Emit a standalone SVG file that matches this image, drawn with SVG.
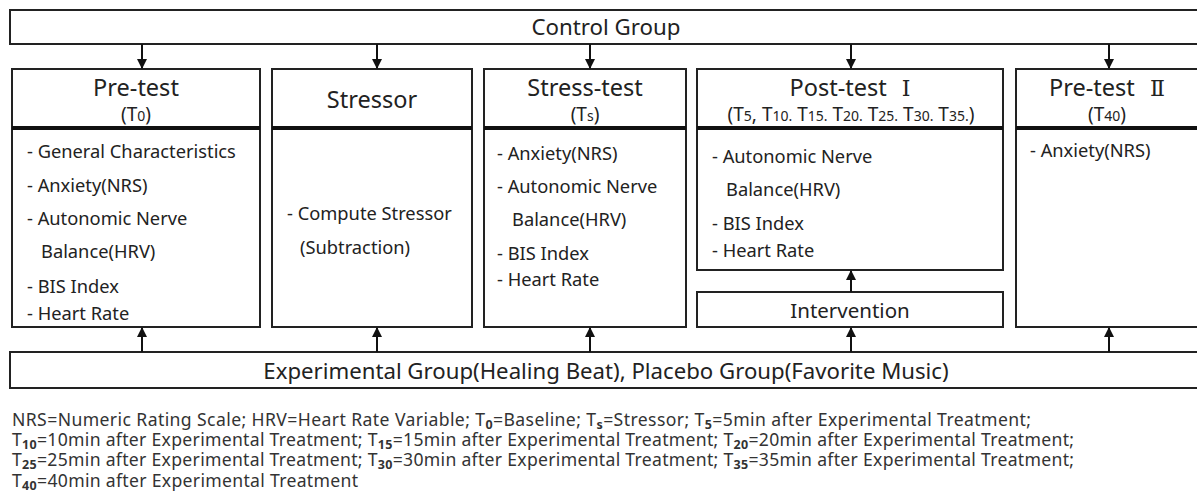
<svg xmlns="http://www.w3.org/2000/svg" width="1197" height="495" viewBox="0 0 1197 495">
<defs>
<marker id="ah" viewBox="0 0 10 10" refX="9" refY="5" markerWidth="5" markerHeight="5" orient="auto" markerUnits="strokeWidth">
<path d="M0,0 L10,5 L0,10 Z" fill="#111"/>
</marker>
<style>
.box{fill:#fff;stroke:#222;stroke-width:2}
.sep{stroke:#111;stroke-width:4}
.t{font-family:"Noto Sans","Noto Sans CJK KR","Liberation Sans",sans-serif;fill:#222}
.h{font-size:23.5px;text-anchor:middle}
.s{font-size:19px;text-anchor:middle}
.b{font-size:18.3px}
.sm{font-size:14px}
.rn{font-family:"DejaVu Serif","Liberation Serif","Noto Sans CJK KR",serif;font-size:22px}
.c{stroke:#111;stroke-width:2;fill:none;marker-end:url(#ah)}
.fn{font-family:"Noto Sans","Liberation Sans",sans-serif;font-size:17.6px;fill:#333}
.sub{font-size:12.5px;font-weight:bold}
</style>
</defs>
<rect width="1197" height="495" fill="#fff"/>

<g id="control-group">
<rect class="box" x="10" y="10" width="1200" height="34"/>
<text class="t" x="606" y="35" font-size="22.3" text-anchor="middle">Control Group</text>
</g>

<g id="pre-test">
<rect class="box" x="12" y="69" width="248" height="258"/>
<line class="sep" x1="12" y1="128" x2="260" y2="128"/>
<text class="t h" x="136" y="96">Pre-test</text>
<text class="t s" x="136" y="121">(T<tspan class="sm">0</tspan>)</text>
<text class="t b" x="27" y="158">- General Characteristics</text>
<text class="t b" x="27" y="192">- Anxiety(NRS)</text>
<text class="t b" x="27" y="225">- Autonomic Nerve</text>
<text class="t b" x="41" y="258">Balance(HRV)</text>
<text class="t b" x="27" y="293">- BIS Index</text>
<text class="t b" x="27" y="320">- Heart Rate</text>
</g>

<g id="stressor">
<rect class="box" x="272" y="69" width="200" height="258"/>
<line class="sep" x1="272" y1="128" x2="472" y2="128"/>
<text class="t h" x="372" y="108">Stressor</text>
<text class="t b" x="287" y="220">- Compute Stressor</text>
<text class="t b" x="300" y="254">(Subtraction)</text>
</g>

<g id="stress-test">
<rect class="box" x="484" y="69" width="202" height="258"/>
<line class="sep" x1="484" y1="128" x2="686" y2="128"/>
<text class="t h" x="585" y="96">Stress-test</text>
<text class="t s" x="585" y="121">(T<tspan class="sm">s</tspan>)</text>
<text class="t b" x="497" y="160">- Anxiety(NRS)</text>
<text class="t b" x="497" y="193">- Autonomic Nerve</text>
<text class="t b" x="512" y="226">Balance(HRV)</text>
<text class="t b" x="497" y="260">- BIS Index</text>
<text class="t b" x="497" y="286">- Heart Rate</text>
</g>

<g id="post-test-1">
<rect class="box" x="697" y="69" width="306" height="201"/>
<line class="sep" x1="697" y1="128" x2="1003" y2="128"/>
<text class="t h" x="850" y="96">Post-test <tspan class="rn" dx="9">Ⅰ</tspan></text>
<text class="t s" x="851" y="121">(T<tspan class="sm">5</tspan>,  T<tspan class="sm">10.</tspan> T<tspan class="sm">15.</tspan> T<tspan class="sm">20.</tspan> T<tspan class="sm">25.</tspan> T<tspan class="sm">30.</tspan> T<tspan class="sm">35.</tspan>)</text>
<text class="t b" x="712" y="163">- Autonomic Nerve</text>
<text class="t b" x="726" y="196">Balance(HRV)</text>
<text class="t b" x="712" y="230">- BIS Index</text>
<text class="t b" x="712" y="257">- Heart Rate</text>
</g>

<g id="intervention">
<rect class="box" x="697" y="292" width="306" height="35"/>
<text class="t" x="850" y="318" font-size="20.5" text-anchor="middle">Intervention</text>
</g>

<g id="pre-test-2">
<rect class="box" x="1016" y="69" width="200" height="258"/>
<line class="sep" x1="1016" y1="128" x2="1216" y2="128"/>
<text class="t h" x="1107" y="96">Pre-test <tspan class="rn" dx="9">Ⅱ</tspan></text>
<text class="t s" x="1107" y="121">(T<tspan class="sm">40</tspan>)</text>
<text class="t b" x="1030" y="157">- Anxiety(NRS)</text>
</g>

<g id="experimental-group">
<rect class="box" x="10" y="352" width="1200" height="36"/>
<text class="t" x="606" y="379" font-size="22.2" text-anchor="middle">Experimental Group(Healing Beat), Placebo Group(Favorite Music)</text>
</g>

<g id="connectors">
<line class="c" x1="142" y1="44" x2="142" y2="68"/>
<line class="c" x1="377" y1="44" x2="377" y2="68"/>
<line class="c" x1="590" y1="44" x2="590" y2="68"/>
<line class="c" x1="851" y1="44" x2="851" y2="68"/>
<line class="c" x1="1109" y1="44" x2="1109" y2="68"/>
<line class="c" x1="142" y1="352" x2="142" y2="328"/>
<line class="c" x1="377" y1="352" x2="377" y2="328"/>
<line class="c" x1="590" y1="352" x2="590" y2="328"/>
<line class="c" x1="851" y1="352" x2="851" y2="328"/>
<line class="c" x1="1109" y1="352" x2="1109" y2="328"/>
<line class="c" x1="851" y1="292" x2="851" y2="271"/>
</g>

<g id="footnote">
<text class="fn" x="12" y="426" textLength="1019" lengthAdjust="spacing">NRS=Numeric Rating Scale; HRV=Heart Rate Variable; T<tspan class="sub" baseline-shift="-2.5">0</tspan>=Baseline; T<tspan class="sub" baseline-shift="-2.5">s</tspan>=Stressor; T<tspan class="sub" baseline-shift="-2.5">5</tspan>=5min after Experimental Treatment;</text>
<text class="fn" x="12" y="446" textLength="1062" lengthAdjust="spacing">T<tspan class="sub" baseline-shift="-2.5">10</tspan>=10min after Experimental Treatment; T<tspan class="sub" baseline-shift="-2.5">15</tspan>=15min after Experimental Treatment; T<tspan class="sub" baseline-shift="-2.5">20</tspan>=20min after Experimental Treatment;</text>
<text class="fn" x="12" y="466" textLength="1062" lengthAdjust="spacing">T<tspan class="sub" baseline-shift="-2.5">25</tspan>=25min after Experimental Treatment; T<tspan class="sub" baseline-shift="-2.5">30</tspan>=30min after Experimental Treatment; T<tspan class="sub" baseline-shift="-2.5">35</tspan>=35min after Experimental Treatment;</text>
<text class="fn" x="12" y="487" textLength="346" lengthAdjust="spacing">T<tspan class="sub" baseline-shift="-2.5">40</tspan>=40min after Experimental Treatment</text>
</g>
</svg>
